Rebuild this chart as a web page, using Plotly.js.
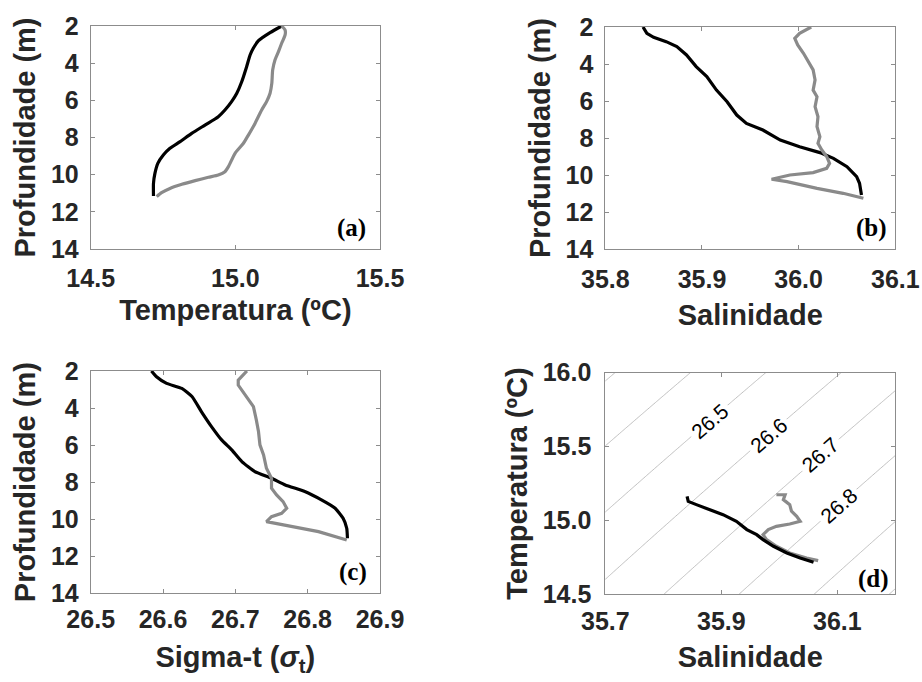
<!DOCTYPE html>
<html>
<head>
<meta charset="utf-8">
<script src="https://cdn.plot.ly/plotly-3.0.1.min.js"></script>
<style>html,body{margin:0;padding:0;background:#fff;}#chart{width:922px;height:682px;}</style>
</head>
<body>
<div id="chart"></div>
<script>
// ---- Panel (a): depth vs temperature ----
const aBlackDepth = [2.0, 2.36, 2.79, 3.2, 3.56, 4.19, 5.0, 5.62, 6.07, 6.52, 6.88, 7.33, 7.78, 8.22, 8.58, 8.94, 9.39, 9.93, 10.47, 11.15];
const aBlackTemp  = [15.160, 15.12, 15.08, 15.062, 15.051, 15.039, 15.022, 15.005, 14.987, 14.964, 14.941, 14.895, 14.849, 14.809, 14.774, 14.751, 14.732, 14.722, 14.717, 14.717];
const aGreyDepth  = [2.0, 2.22, 2.48, 2.93, 3.38, 3.83, 4.37, 5.09, 5.62, 6.07, 6.52, 7.24, 7.87, 8.31, 8.85, 9.57, 9.84, 10.02, 10.14, 10.32, 10.52, 10.74, 10.97, 11.18];
const aGreyTemp   = [15.160, 15.172, 15.172, 15.16, 15.149, 15.137, 15.129, 15.126, 15.120, 15.108, 15.091, 15.068, 15.045, 15.028, 14.999, 14.976, 14.964, 14.941, 14.907, 14.861, 14.815, 14.774, 14.745, 14.728];

// ---- Panel (b): depth vs salinity ----
const bBlackDepth = [2.0, 2.34, 2.56, 2.79, 3.06, 3.51, 4.14, 4.68, 5.41, 6.04, 6.76, 7.21, 7.57, 8.11, 8.47, 8.79, 9.1, 9.55, 10.09, 10.45, 11.08];
const bBlackSal   = [35.839, 35.843, 35.850, 35.863, 35.874, 35.884, 35.894, 35.905, 35.915, 35.926, 35.936, 35.946, 35.963, 35.981, 36.001, 36.022, 36.036, 36.050, 36.060, 36.063, 36.065];
const bGreyDepth  = [2.0, 2.34, 2.61, 2.97, 3.42, 3.87, 4.32, 4.86, 5.41, 5.77, 6.31, 6.85, 7.39, 7.93, 8.29, 8.65, 9.0, 9.37, 9.64, 9.87, 10.0, 10.23, 10.36, 10.72, 10.99, 11.26];
const bGreySal    = [36.013, 36.001, 35.996, 35.999, 36.005, 36.010, 36.015, 36.017, 36.015, 36.019, 36.017, 36.020, 36.019, 36.022, 36.020, 36.024, 36.029, 36.032, 36.029, 36.015, 35.991, 35.972, 35.988, 36.019, 36.046, 36.067];

// ---- Panel (c): depth vs sigma-t ----
const cBlackDepth = [2, 2.31, 2.67, 2.94, 3.38, 4.19, 5.0, 5.72, 6.26, 6.89, 7.43, 7.79, 8.15, 8.51, 8.96, 9.41, 9.95, 10.49, 11.03];
const cBlackSigma = [26.584, 26.591, 26.605, 26.626, 26.640, 26.653, 26.667, 26.681, 26.695, 26.709, 26.727, 26.750, 26.769, 26.796, 26.819, 26.838, 26.849, 26.854, 26.855];
const cGreyDepth  = [2, 2.49, 2.76, 3.29, 3.92, 4.64, 5.27, 5.99, 6.53, 7.25, 7.79, 8.33, 8.69, 9.05, 9.41, 9.68, 9.86, 10.13, 10.31, 10.67, 11.12];
const cGreySigma  = [26.716, 26.704, 26.704, 26.713, 26.725, 26.729, 26.732, 26.734, 26.739, 26.743, 26.750, 26.750, 26.757, 26.766, 26.771, 26.764, 26.750, 26.743, 26.769, 26.815, 26.854];

// ---- Panel (d): T-S diagram ----
const dBlackSal  = [35.841, 35.843, 35.857, 35.880, 35.903, 35.926, 35.944, 35.961, 35.972, 35.990, 36.013, 36.036, 36.059];
const dBlackTemp = [15.163, 15.129, 15.107, 15.073, 15.039, 14.994, 14.938, 14.904, 14.870, 14.825, 14.780, 14.746, 14.717];
const dGreySal   = [35.995, 36.010, 36.007, 36.018, 36.021, 36.030, 36.036, 36.018, 35.995, 35.981, 35.972, 35.978, 35.995, 36.018, 36.047, 36.067];
const dGreyTemp  = [15.174, 15.174, 15.141, 15.107, 15.062, 15.028, 14.994, 14.976, 14.960, 14.938, 14.904, 14.870, 14.825, 14.780, 14.746, 14.728];

// Isopycnal labels: level and the temperature at which the label sits on its line
const isoLabelLevels = [26.5, 26.6, 26.7, 26.8];
const isoLabelTemps  = [15.673, 15.578, 15.443, 15.104];

// Tick labels
const depthTicks = [2, 4, 6, 8, 10, 12, 14];
const aTicks = [14.5, 15.0, 15.5];
const bTicks = [35.8, 35.9, 36.0, 36.1];
const cTicks = [26.5, 26.6, 26.7, 26.8, 26.9];
const dSalTicks = [35.7, 35.9, 36.1];
const dTempTicks = [14.5, 15.0, 15.5, 16.0];
const panelLabels = ['(a)', '(b)', '(c)', '(d)'];

// UNESCO EOS-80 sigma-t at p = 0
function sigmaT(T, S) {
  const rw = 999.842594 + 6.793952e-2*T - 9.095290e-3*T*T + 1.001685e-4*T**3 - 1.120083e-6*T**4 + 6.536332e-9*T**5;
  const A = 8.24493e-1 - 4.0899e-3*T + 7.6438e-5*T*T - 8.2467e-7*T**3 + 5.3875e-9*T**4;
  const B = -5.72466e-3 + 1.0227e-4*T - 1.6546e-6*T*T;
  const C = 4.8314e-4;
  return rw + A*S + B*Math.pow(S, 1.5) + C*S*S - 1000;
}
const gridS = [], gridT = [];
for (let i = 0; i <= 60; i++) gridS.push(35.68 + i*0.01);
for (let j = 0; j <= 70; j++) gridT.push(14.45 + j*0.025);
const gridZ = gridT.map(t => gridS.map(s => sigmaT(t, s)));

const W = 922, H = 682;
function dx(l, r) { return [l / W, r / W]; }
function dy(t, b) { return [1 - b / H, 1 - t / H]; }
const dXDom = dx(605.3, 895.3), dYDom = dy(372.7, 594.3);
const dSRange = [35.7, 36.2], dTRange = [14.5, 16.0];

// place isopycnal labels exactly on their lines
function salForLevel(level, T) {
  let lo = 34, hi = 38;
  for (let k = 0; k < 60; k++) { const m = (lo + hi) / 2; if (sigmaT(T, m) < level) lo = m; else hi = m; }
  return (lo + hi) / 2;
}
const pxPerS = (dXDom[1] - dXDom[0]) * W / (dSRange[1] - dSRange[0]);
const pxPerT = (dYDom[1] - dYDom[0]) * H / (dTRange[1] - dTRange[0]);
const isoAnnotations = isoLabelLevels.map((lev, i) => {
  const T = isoLabelTemps[i], S = salForLevel(lev, T), h = 1e-3;
  const gS = (sigmaT(T, S + h) - sigmaT(T, S - h)) / (2*h) / pxPerS;
  const gT = (sigmaT(T + h, S) - sigmaT(T - h, S)) / (2*h) / pxPerT;
  const ang = Math.atan2(-gS, -gT) * 180 / Math.PI;
  return {xref: 'x4', yref: 'y4', x: S, y: T, text: lev.toFixed(1), showarrow: false, textangle: ang,
    xanchor: 'center', yanchor: 'middle', bgcolor: '#ffffff', borderpad: 3,
    font: {family: 'Liberation Sans, Arial, sans-serif', size: 21, color: '#000'}};
});

const BLACK = '#000000', GREY = '#8a8a8a', LW = 3.2;
const traces = [
  {x: aBlackTemp, y: aBlackDepth, xaxis: 'x', yaxis: 'y', mode: 'lines', line: {color: BLACK, width: LW, shape: 'spline', smoothing: 0.6}},
  {x: aGreyTemp, y: aGreyDepth, xaxis: 'x', yaxis: 'y', mode: 'lines', line: {color: GREY, width: LW, shape: 'spline', smoothing: 0.6}},
  {x: bBlackSal, y: bBlackDepth, xaxis: 'x2', yaxis: 'y2', mode: 'lines', line: {color: BLACK, width: LW}},
  {x: bGreySal, y: bGreyDepth, xaxis: 'x2', yaxis: 'y2', mode: 'lines', line: {color: GREY, width: LW}},
  {x: cBlackSigma, y: cBlackDepth, xaxis: 'x3', yaxis: 'y3', mode: 'lines', line: {color: BLACK, width: LW, shape: 'spline', smoothing: 0.5}},
  {x: cGreySigma, y: cGreyDepth, xaxis: 'x3', yaxis: 'y3', mode: 'lines', line: {color: GREY, width: LW}},
  {type: 'contour', x: gridS, y: gridT, z: gridZ, xaxis: 'x4', yaxis: 'y4', showscale: false, hoverinfo: 'skip',
   autocontour: false, contours: {start: 26.0, end: 27.3, size: 0.1, coloring: 'none', showlabels: false},
   line: {color: '#b0b0b0', width: 0.8, smoothing: 0}},
  {x: dGreySal, y: dGreyTemp, xaxis: 'x4', yaxis: 'y4', mode: 'lines', line: {color: GREY, width: LW}},
  {x: dBlackSal, y: dBlackTemp, xaxis: 'x4', yaxis: 'y4', mode: 'lines', line: {color: BLACK, width: LW}}
];

const tickFont = {family: 'Liberation Sans, Arial, sans-serif', size: 25, color: '#262626', weight: 'bold'};
const titleFont = {family: 'Liberation Sans, Arial, sans-serif', size: 29, color: '#262626', weight: 'bold'};
function ax(extra) {
  return Object.assign({
    showgrid: false, zeroline: false, showline: true, mirror: 'ticks', linecolor: '#8c8c8c', linewidth: 1,
    ticks: 'inside', ticklen: 4, tickcolor: '#8c8c8c', tickwidth: 1, tickfont: tickFont, fixedrange: true
  }, extra);
}

const layout = {
  width: W, height: H, margin: {l: 0, r: 0, t: 0, b: 0}, showlegend: false,
  paper_bgcolor: '#fff', plot_bgcolor: '#fff',
  xaxis: ax({domain: dx(90.7, 380), range: [14.5, 15.5], tickvals: aTicks, ticktext: aTicks.map(v => v.toFixed(1)), anchor: 'y', ticklabelstandoff: 7,
    title: {text: 'Temperatura (ºC)', font: titleFont, standoff: 8}}),
  yaxis: ax({domain: dy(26, 249), range: [14, 2], tickvals: depthTicks, anchor: 'x', ticklabelstandoff: 6,
    title: {text: 'Profundidade (m)', font: titleFont, standoff: 6}}),
  xaxis2: ax({domain: dx(605.3, 895.3), range: [35.8, 36.1], tickvals: bTicks, ticktext: bTicks.map(v => v.toFixed(1)), anchor: 'y2', ticklabelstandoff: 8,
    title: {text: 'Salinidade', font: titleFont, standoff: 12}}),
  yaxis2: ax({domain: dy(27, 249), range: [14, 2], tickvals: depthTicks, anchor: 'x2', ticklabelstandoff: 6,
    title: {text: 'Profundidade (m)', font: titleFont, standoff: 6}}),
  xaxis3: ax({domain: dx(90.7, 380), range: [26.5, 26.9], tickvals: cTicks, ticktext: cTicks.map(v => v.toFixed(1)), anchor: 'y3', ticklabelstandoff: 4,
    title: {text: 'Sigma-t (<i>σ</i><sub>t</sub>)', font: titleFont, standoff: 14}}),
  yaxis3: ax({domain: dy(371, 593.3), range: [14, 2], tickvals: depthTicks, anchor: 'x3', ticklabelstandoff: 6,
    title: {text: 'Profundidade (m)', font: titleFont, standoff: 6}}),
  xaxis4: ax({domain: dXDom, range: dSRange, tickvals: dSalTicks, ticktext: dSalTicks.map(v => v.toFixed(1)), anchor: 'y4', ticklabelstandoff: 5,
    title: {text: 'Salinidade', font: titleFont, standoff: 12}}),
  yaxis4: ax({domain: dYDom, range: dTRange, tickvals: dTempTicks, ticktext: dTempTicks.map(v => v.toFixed(1)), anchor: 'x4', ticklabelstandoff: 8,
    title: {text: 'Temperatura (ºC)', font: titleFont, standoff: 6}}),
  annotations: isoAnnotations.concat([
    ['x', 'y', 0.8445, 0.093], ['x2', 'y2', 0.8586, 0.094], ['x3', 'y3', 0.852, 0.097], ['x4', 'y4', 0.8645, 0.071]
  ].map((p, i) => ({
    xref: p[0] + ' domain', yref: p[1] + ' domain', x: p[2], y: p[3], xanchor: 'left', yanchor: 'middle',
    text: '<b>' + panelLabels[i] + '</b>', showarrow: false,
    font: {family: 'Liberation Serif, Times New Roman, serif', size: 25, color: '#000'}
  })))
};

Plotly.newPlot('chart', traces, layout, {displayModeBar: false, staticPlot: true});
</script>
</body>
</html>
